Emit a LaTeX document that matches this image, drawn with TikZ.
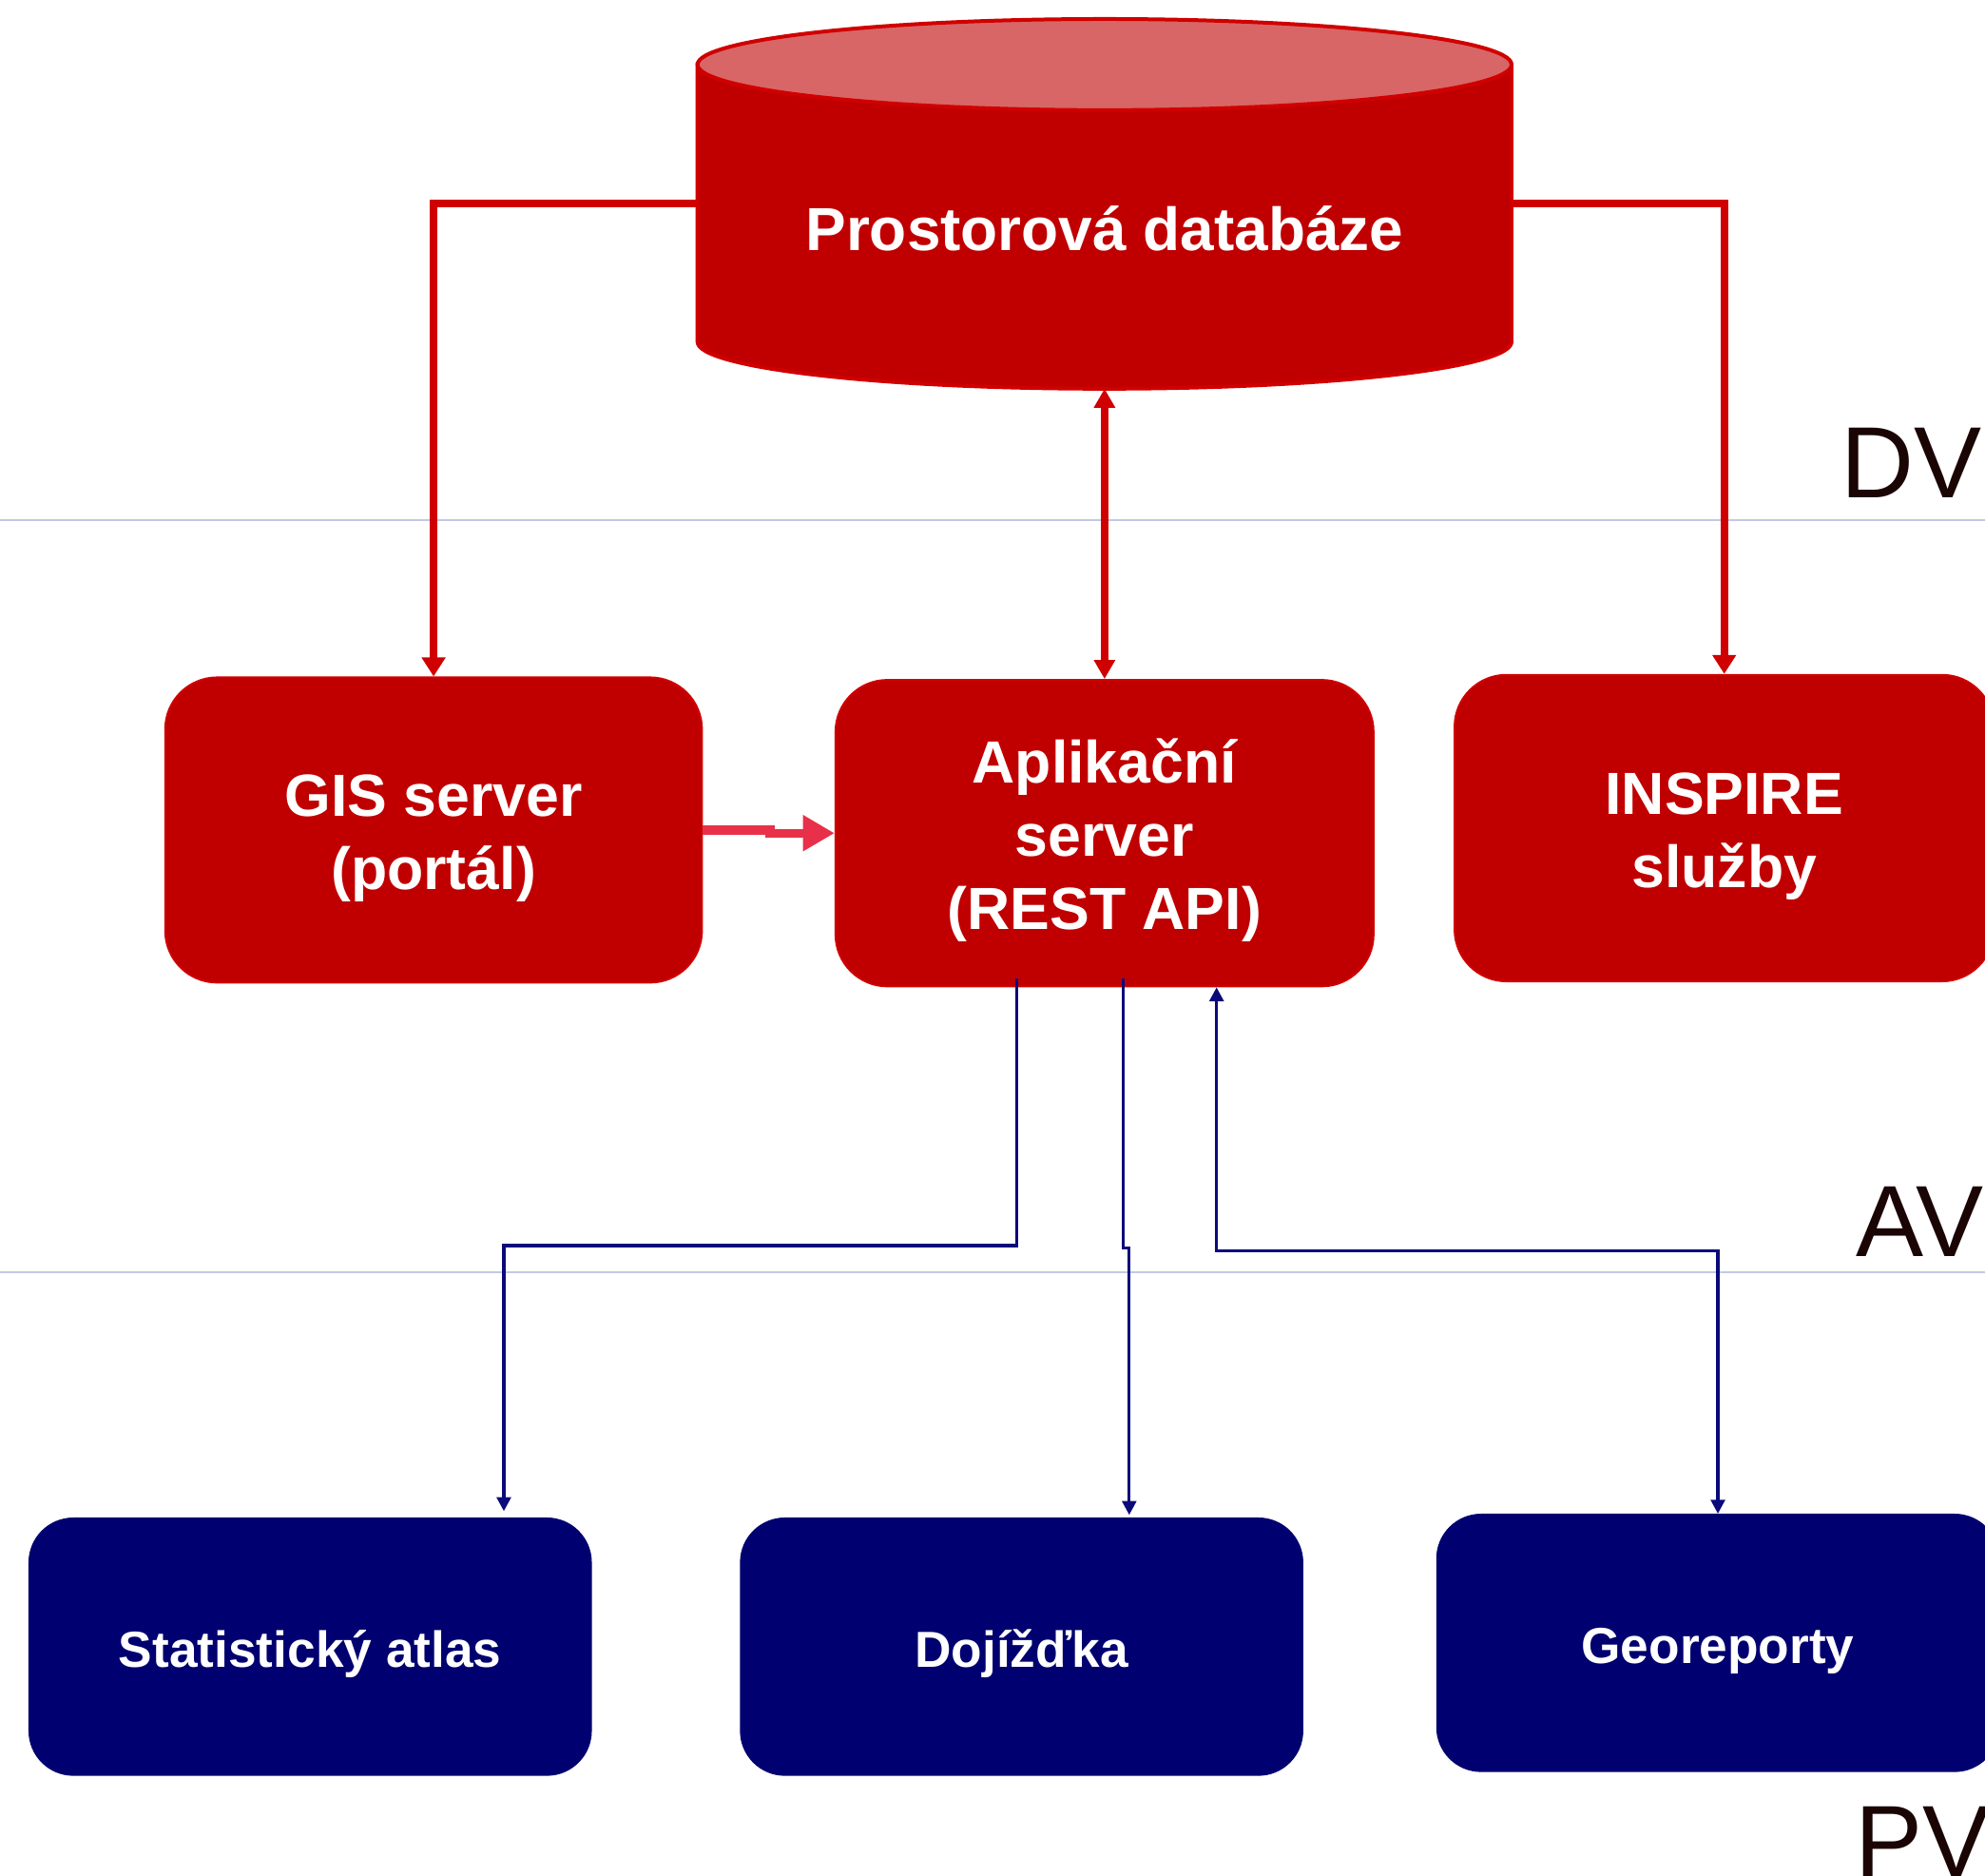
\documentclass[tikz,border=0pt]{standalone}
\usepackage{fontspec}
\setmainfont{Liberation Sans}
\usetikzlibrary{arrows.meta}
\definecolor{boxred}{HTML}{C00000}
\definecolor{linered}{HTML}{D00000}
\definecolor{toppink}{HTML}{D86666}
\definecolor{pinkarrow}{HTML}{E8304A}
\definecolor{navybox}{HTML}{000070}
\definecolor{navyline}{HTML}{0A0A7A}
\definecolor{sepline}{HTML}{C2C8E6}
\definecolor{labeltext}{HTML}{1A0404}
\newcommand{\boxtopstrut}{\rule{0pt}{46pt}}
\begin{document}
\begin{tikzpicture}[x=1pt,y=-1pt,
  redbox/.style={fill=boxred, draw=linered, line width=1.5pt, rounded corners=41pt,
    minimum width=424pt, minimum height=241pt, inner sep=0pt, text=white, align=center,
    font=\fontsize{47}{58}\selectfont\bfseries},
  bluebox/.style={fill=navybox, draw=navybox, line width=1pt, rounded corners=35pt,
    minimum width=444pt, minimum height=203pt, inner sep=0pt, text=white,
    font=\fontsize{40}{48}\selectfont\bfseries, execute at begin node={\rule{0pt}{41pt}}},
  redconn/.style={draw=linered, line width=6pt, -{Triangle[length=15pt,width=18pt]}},
  redboth/.style={draw=linered, line width=6pt, {Triangle[length=15pt,width=16pt]}-{Triangle[length=15pt,width=16pt]}},
  pinkconn/.style={draw=pinkarrow, line width=7pt, -{Triangle[length=25pt,width=27pt]}},
  blueconn/.style={draw=navyline, line width=2.5pt, -{Triangle[length=11pt,width=11pt]}},
  blueboth/.style={draw=navyline, line width=2.5pt, {Triangle[length=11pt,width=11pt]}-{Triangle[length=11pt,width=11pt]}},
  sep/.style={draw=sepline, line width=1.5pt},
  layer/.style={text=labeltext, font=\fontsize{80}{96}\selectfont, inner sep=0pt, anchor=base west},
  dbtext/.style={text=white, font=\fontsize{48}{58}\selectfont\bfseries, inner sep=0pt, anchor=base}
]
\useasboundingbox (0,0) rectangle (1568,1481);
\clip (0,0) rectangle (1568,1481);
\fill[white] (0,0) rectangle (1568,1481);

% separators
\draw[sep] (0,411) -- (1568,411);
\draw[sep] (0,1005) -- (1568,1005);

% layer labels
\node[layer] (dv) at (1454,393) {DV};
\node[layer] (av) at (1466,992) {AV};
\node[layer] (pv) at (1465,1482) {PV};

% database cylinder
\filldraw[fill=boxred, draw=linered, line width=3pt]
  (551,51) -- (551,270) arc[start angle=180, end angle=0, x radius=321.5, y radius=37] -- (1194,51) -- cycle;
\filldraw[fill=toppink, draw=linered, line width=3pt] (872.5,51) ellipse[x radius=321.5, y radius=36];
\node[dbtext] (db) at (872.5,198) {Prostorová databáze};
\coordinate (dbL) at (551,161);
\coordinate (dbR) at (1194,161);
\coordinate (dbB) at (872.5,307);

% middle row
\node[redbox] (gis) at (342.5,655.5) {\boxtopstrut GIS server\\(portál)};
\node[redbox, minimum width=425pt, minimum height=242pt] (app) at (872.5,658) {\boxtopstrut Aplikační\\server\\(REST API)};
\node[redbox, minimum width=426pt, minimum height=242pt] (insp) at (1362,654) {\boxtopstrut INSPIRE\\služby};

% bottom row
\node[bluebox] (stat) at (245,1300.5) {Statistický atlas};
\node[bluebox] (doj) at (807,1300.5) {Dojížďka};
\node[bluebox] (geo) at (1357,1297.5) {Georeporty};

% red connectors
\draw[redconn] (dbL) -| (gis.north);
\draw[redconn] (dbR) -| (insp.north);
\draw[redboth] (dbB) -- (app.north);
\draw[pinkconn] (gis.east) -- ++(53,0) |- (app.west);

% blue connectors
\draw[blueconn, shorten >=5pt] ([xshift=-69.5pt,yshift=7pt]app.south) -- ++(0,211) -| ([xshift=153pt]stat.north);
\draw[blueconn, shorten >=2pt] ([xshift=14.5pt,yshift=7pt]app.south) -- ++(0,213) -- ++(5,0) -- ([xshift=85pt]doj.north);
\draw[blueboth] ([xshift=88.5pt]app.south) -- ++(0,208) -| (geo.north);
\end{tikzpicture}
\end{document}
